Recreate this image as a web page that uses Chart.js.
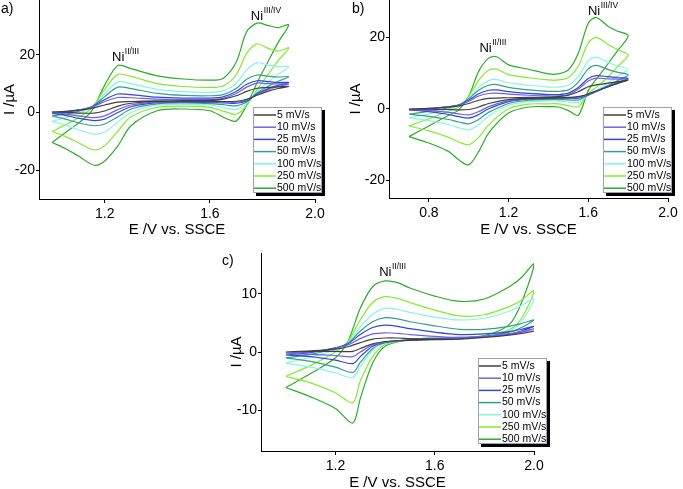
<!DOCTYPE html>
<html>
<head>
<meta charset="utf-8">
<script src="https://cdn.jsdelivr.net/npm/chart.js@4.4.0/dist/chart.umd.min.js"></script>
<style>
body{margin:0;background:#fff;width:683px;height:489px;position:relative;overflow:hidden;font-family:"Liberation Sans",Arial,sans-serif;}
.pane{position:absolute;}
.tag{position:absolute;font-size:14px;line-height:16px;color:#000;}
</style>
</head>
<body>
<div class="pane" style="left:0;top:0"><canvas id="ca" width="340" height="240"></canvas></div>
<div class="pane" style="left:340px;top:0"><canvas id="cb" width="343" height="240"></canvas></div>
<div class="pane" style="left:180px;top:240px"><canvas id="cc" width="370" height="249"></canvas></div>
<div class="tag" style="left:1px;top:0">a)</div>
<div class="tag" style="left:352px;top:0">b)</div>
<div class="tag" style="left:222px;top:252px">c)</div>
<script>
const rates = ['5 mV/s', '10 mV/s', '25 mV/s', '50 mV/s', '100 mV/s', '250 mV/s', '500 mV/s'];
const colors = ['#404040', '#7060e8', '#3048d8', '#35a08a', '#88f5e2', '#80ec30', '#2aae2a'];

// panel a : potentials of forward / reverse sweep, currents per scan rate (uA)
const aFwdE = [1.00, 1.05, 1.10, 1.15, 1.20, 1.25, 1.30, 1.40, 1.50, 1.60, 1.65, 1.70, 1.74, 1.78, 1.82, 1.86, 1.90];
const aRevE = [1.90, 1.86, 1.82, 1.78, 1.74, 1.70, 1.66, 1.60, 1.50, 1.40, 1.30, 1.25, 1.20, 1.16, 1.10, 1.05, 1.00];
const aFwdI = [
  [0.2, 0.4, 0.8, 1.4, 2.6, 3.6, 3.8, 4.0, 4.1, 4.2, 4.6, 5.8, 7.3, 8.4, 8.7, 8.9, 9.0],
  [0.0, 0.3, 0.9, 1.8, 3.8, 5.2, 5.1, 4.6, 4.5, 4.5, 4.9, 6.6, 8.8, 10.2, 10.0, 9.9, 9.9],
  [-0.3, 0.1, 0.8, 2.0, 4.5, 6.4, 6.2, 5.3, 5.0, 5.0, 5.4, 7.3, 9.8, 11.0, 10.7, 10.4, 10.4],
  [-1.2, -0.6, 0.4, 2.0, 5.5, 8.8, 8.3, 6.6, 5.9, 5.8, 6.2, 8.3, 11.5, 13.0, 12.6, 12.3, 12.4],
  [-3.1, -1.8, -0.3, 1.8, 6.5, 10.6, 10.0, 8.0, 7.2, 7.0, 7.5, 10.0, 14.8, 17.2, 16.5, 15.9, 15.8],
  [-6.6, -4.3, -1.8, 1.5, 8.0, 13.2, 12.5, 10.0, 9.0, 8.7, 9.2, 13.0, 20.5, 23.8, 22.3, 21.3, 22.4],
  [-10.4, -7.0, -3.7, 0.5, 9.5, 16.3, 15.2, 12.7, 11.6, 11.2, 11.8, 17.4, 28.0, 31.0, 30.2, 29.4, 30.4]
];
const aRevI = [
  [9.0, 8.3, 7.3, 6.0, 4.6, 3.9, 3.8, 3.9, 3.9, 3.8, 3.2, 2.2, 0.5, -0.2, -0.2, 0.1, 0.2],
  [9.9, 9.0, 7.8, 6.3, 4.3, 3.5, 3.6, 3.7, 3.8, 3.6, 2.6, 1.0, -1.2, -1.8, -1.2, -0.5, 0.0],
  [10.4, 9.4, 8.2, 6.5, 4.0, 3.2, 3.3, 3.5, 3.6, 3.4, 2.0, 0.0, -2.3, -2.8, -2.0, -1.0, -0.3],
  [12.4, 10.8, 9.0, 6.8, 3.6, 2.3, 2.6, 3.1, 3.3, 3.0, 1.2, -1.5, -4.0, -4.6, -3.6, -2.3, -1.2],
  [15.8, 13.3, 10.5, 7.2, 3.2, 1.1, 1.5, 2.6, 2.8, 2.5, 0.0, -3.3, -6.8, -7.5, -6.0, -4.3, -3.1],
  [22.4, 18.0, 13.0, 8.0, 2.4, -0.6, 0.2, 1.8, 2.2, 1.8, -1.5, -6.5, -11.5, -13.0, -10.5, -8.3, -6.6],
  [30.4, 24.3, 17.4, 10.4, 2.5, -3.0, -2.0, 0.6, 1.2, 0.6, -4.6, -11.6, -16.8, -18.3, -15.1, -12.5, -10.4]
];
const aXTicks = [1.2, 1.6, 2.0];
const aYTicks = [-20, 0, 20];

// panel b
const bFwdE = [0.70, 0.80, 0.90, 0.95, 1.00, 1.05, 1.10, 1.14, 1.20, 1.30, 1.40, 1.45, 1.50, 1.55, 1.60, 1.64, 1.70, 1.75, 1.80];
const bRevE = [1.80, 1.75, 1.70, 1.65, 1.60, 1.55, 1.50, 1.45, 1.40, 1.30, 1.20, 1.10, 1.05, 1.00, 0.95, 0.90, 0.80, 0.70];
const bFwdI = [
  [-0.1, 0.1, 0.5, 0.8, 1.5, 2.4, 2.9, 3.0, 3.1, 3.2, 3.3, 3.4, 3.8, 4.8, 6.2, 6.7, 7.2, 7.6, 8.0],
  [-0.2, 0.1, 0.6, 1.0, 2.1, 3.6, 4.3, 4.4, 4.1, 3.8, 3.6, 3.6, 4.0, 5.5, 7.8, 8.6, 8.4, 8.3, 8.2],
  [-0.3, 0.0, 0.6, 1.1, 2.4, 4.2, 5.2, 5.3, 4.8, 4.3, 4.0, 4.0, 4.4, 6.0, 8.5, 9.3, 9.0, 8.7, 8.5],
  [-1.5, -0.7, 0.3, 1.0, 2.8, 5.2, 6.6, 6.8, 6.0, 5.3, 4.9, 4.9, 5.3, 7.5, 11.2, 12.2, 11.0, 10.2, 9.5],
  [-2.5, -1.4, 0.0, 0.8, 3.0, 6.0, 7.9, 8.2, 7.3, 6.6, 6.1, 6.1, 6.6, 9.0, 13.5, 14.5, 13.0, 12.0, 11.1],
  [-4.8, -2.8, -0.6, 0.5, 3.5, 8.0, 10.8, 11.1, 9.6, 8.7, 8.1, 8.1, 8.8, 12.0, 18.5, 20.0, 18.0, 16.5, 15.1],
  [-7.8, -4.8, -1.8, -0.3, 3.5, 10.5, 14.2, 14.6, 12.3, 11.1, 9.8, 9.8, 10.9, 15.6, 24.0, 25.6, 23.1, 21.7, 20.5]
];
const bRevI = [
  [8.0, 7.2, 6.2, 5.2, 4.2, 3.4, 3.2, 3.1, 3.0, 2.9, 2.6, 1.5, 0.5, -0.2, -0.3, -0.2, -0.1, -0.1],
  [8.2, 7.2, 6.2, 5.1, 4.0, 3.2, 3.0, 3.0, 3.0, 2.8, 2.2, 0.6, -0.8, -1.7, -1.4, -1.0, -0.5, -0.2],
  [8.5, 7.4, 6.3, 5.1, 3.9, 3.0, 2.9, 2.9, 2.9, 2.7, 2.0, 0.0, -1.6, -2.6, -2.2, -1.6, -0.8, -0.3],
  [9.5, 8.0, 6.6, 5.2, 3.8, 2.5, 2.5, 2.6, 2.6, 2.4, 1.5, -1.0, -3.0, -4.2, -3.7, -3.0, -2.1, -1.5],
  [11.1, 9.2, 7.3, 5.5, 3.8, 1.8, 1.9, 2.2, 2.2, 2.0, 1.0, -2.0, -4.5, -5.9, -5.3, -4.4, -3.3, -2.5],
  [15.1, 12.0, 9.0, 6.5, 4.2, 0.6, 0.9, 1.4, 1.4, 1.3, 0.0, -4.5, -8.0, -10.1, -9.3, -8.0, -6.2, -4.8],
  [20.5, 16.5, 12.7, 9.0, 5.1, -1.8, -0.5, 0.5, 0.6, 0.5, -1.2, -6.8, -12.0, -15.7, -14.3, -12.0, -9.6, -7.8]
];
const bXTicks = [0.8, 1.2, 1.6, 2.0];
const bYTicks = [-20, 0, 20];

// panel c
const cFwdE = [1.00, 1.10, 1.20, 1.25, 1.30, 1.35, 1.40, 1.45, 1.50, 1.60, 1.70, 1.80, 1.90, 1.95, 2.00];
const cRevE = [2.00, 1.95, 1.90, 1.80, 1.70, 1.60, 1.50, 1.40, 1.35, 1.30, 1.27, 1.20, 1.10, 1.00];
const cFwdI = [
  [0.0, 0.2, 0.5, 0.9, 1.6, 2.2, 2.4, 2.4, 2.3, 2.2, 2.2, 2.5, 2.9, 3.2, 3.6],
  [-0.2, 0.0, 0.7, 1.2, 2.3, 3.1, 3.3, 3.2, 3.0, 2.7, 2.5, 2.7, 3.1, 3.5, 4.0],
  [-0.5, -0.1, 0.7, 1.4, 3.0, 4.2, 4.6, 4.4, 4.0, 3.4, 3.0, 3.1, 3.5, 3.9, 4.4],
  [-1.0, -0.4, 0.6, 1.5, 3.6, 5.2, 5.9, 5.7, 5.2, 4.5, 3.9, 3.9, 4.4, 4.9, 5.5],
  [-1.9, -0.9, 0.4, 1.6, 4.3, 6.5, 7.5, 7.3, 6.8, 6.0, 5.5, 5.8, 7.0, 8.0, 9.2],
  [-4.2, -2.3, 0.0, 1.8, 5.5, 8.5, 9.5, 9.2, 8.5, 7.2, 6.2, 6.4, 7.8, 8.9, 10.5],
  [-6.1, -3.7, -1.0, 1.8, 7.5, 11.2, 12.2, 11.9, 11.0, 9.6, 8.7, 9.1, 11.2, 12.8, 15.1]
];
const cRevI = [
  [3.6, 3.2, 2.9, 2.5, 2.2, 2.1, 2.0, 1.8, 1.4, 0.6, 0.1, 0.1, 0.1, 0.0],
  [4.0, 3.4, 3.0, 2.6, 2.3, 2.2, 2.0, 1.7, 1.2, 0.0, -0.8, -0.6, -0.4, -0.2],
  [4.4, 3.6, 3.1, 2.6, 2.4, 2.3, 2.1, 1.7, 1.0, -0.8, -2.0, -1.4, -0.8, -0.5],
  [5.5, 4.2, 3.4, 2.7, 2.4, 2.3, 2.1, 1.6, 0.6, -1.8, -3.5, -2.6, -1.6, -1.0],
  [9.2, 5.2, 3.6, 2.7, 2.4, 2.3, 2.1, 1.5, 0.3, -2.5, -4.4, -3.6, -2.6, -1.9],
  [10.5, 5.8, 3.8, 2.7, 2.4, 2.3, 2.1, 1.3, -0.8, -5.0, -8.7, -7.0, -5.3, -4.2],
  [15.1, 8.5, 4.7, 2.8, 2.5, 2.4, 2.1, 1.0, -1.9, -8.0, -12.2, -9.7, -7.7, -6.1]
];
const cXTicks = [1.2, 1.6, 2.0];
const cYTicks = [-10, 0, 10];

const FONT = '"Liberation Sans", Arial, sans-serif';

// join forward and reverse sweep into one closed loop
function loop(fE, fI, rE, rI) {
  const pts = fE.map((e, i) => ({x: e, y: fI[i]}));
  for (let i = 1; i < rE.length; i++) pts.push({x: rE[i], y: rI[i]});
  return pts;
}

const cvLegend = {
  id: 'cvLegend',
  afterDraw(chart, args, o) {
    const ctx = chart.ctx;
    const w = 69, h = 86, rowH = 12.2;
    ctx.save();
    ctx.fillStyle = '#000';
    ctx.fillRect(o.x + 3, o.y + 3, w, h);
    ctx.fillStyle = '#fff';
    ctx.fillRect(o.x, o.y, w, h);
    ctx.strokeStyle = '#a0a0b0';
    ctx.lineWidth = 1;
    ctx.strokeRect(o.x + 0.5, o.y + 0.5, w - 1, h - 1);
    ctx.font = '10.5px ' + FONT;
    ctx.textBaseline = 'middle';
    chart.data.datasets.forEach((ds, i) => {
      const cy = o.y + 8 + i * rowH;
      ctx.strokeStyle = ds.borderColor;
      ctx.lineWidth = 1.5;
      ctx.beginPath();
      ctx.moveTo(o.x + 1, cy);
      ctx.lineTo(o.x + 23, cy);
      ctx.stroke();
      ctx.fillStyle = '#000';
      ctx.fillText(ds.label, o.x + 24, cy);
    });
    ctx.restore();
  }
};

const niLabels = {
  id: 'niLabels',
  afterDraw(chart, args, o) {
    const {ctx, scales: {x, y}} = chart;
    ctx.save();
    ctx.fillStyle = '#000';
    ctx.textBaseline = 'alphabetic';
    o.items.forEach(it => {
      const px = x.getPixelForValue(it.e), py = y.getPixelForValue(it.i);
      ctx.font = '13px ' + FONT;
      ctx.fillText('Ni', px, py);
      const w = ctx.measureText('Ni').width;
      ctx.font = '8.5px ' + FONT;
      ctx.fillText(it.sup, px + w + 0.5, py - 7);
    });
    ctx.restore();
  }
};

function makeChart(id, fE, fI, rE, rI, xr, yr, xt, yt, L, legendPos, notes) {
  const datasets = rates.map((r, k) => ({
    label: r,
    data: loop(fE, fI[k], rE, rI[k]),
    borderColor: colors[k],
    borderWidth: 1.2,
    pointRadius: 0,
    showLine: true,
    fill: false,
    tension: 0.3
  }));
  new Chart(document.getElementById(id), {
    type: 'scatter',
    data: {datasets},
    plugins: [cvLegend, niLabels],
    options: {
      responsive: false,
      animation: false,
      layout: {padding: {left: 0, top: L.top, right: L.right, bottom: 0}},
      plugins: {
        legend: {display: false},
        tooltip: {enabled: false},
        cvLegend: legendPos,
        niLabels: {items: notes}
      },
      scales: {
        x: {
          type: 'linear', min: xr[0], max: xr[1],
          grid: {drawOnChartArea: false, drawTicks: true, tickLength: 4, color: '#000'},
          border: {display: true, color: '#000', width: 1},
          afterBuildTicks: s => { s.ticks = xt.map(v => ({value: v})); },
          ticks: {color: '#000', font: {family: FONT, size: 14}, padding: 3, maxRotation: 0, autoSkip: false,
                  callback: v => v.toFixed(1)},
          title: {display: true, text: 'E /V vs. SSCE', color: '#000', font: {family: FONT, size: 15},
                  padding: {top: 0, bottom: L.tb}},
          afterFit: s => { s.height = L.xh; s.paddingLeft = 0; s.paddingRight = 0; }
        },
        y: {
          type: 'linear', min: yr[0], max: yr[1],
          grid: {drawOnChartArea: false, drawTicks: true, tickLength: 3, color: '#000'},
          border: {display: true, color: '#000', width: 1},
          afterBuildTicks: s => { s.ticks = yt.map(v => ({value: v})); },
          ticks: {color: '#000', font: {family: FONT, size: 14}, padding: 1, autoSkip: false,
                  callback: v => String(v)},
          title: {display: true, text: 'I /\u00b5A', color: '#000', font: {family: FONT, size: 15},
                  padding: {top: L.tp, bottom: 0}},
          afterFit: s => { s.width = L.yw; s.paddingTop = 0; s.paddingBottom = 0; }
        }
      }
    }
  });
}

makeChart('ca', aFwdE, aFwdI, aRevE, aRevI, [0.95, 2.0], [-30, 39], aXTicks, aYTicks,
  {top: 0, right: 25, xh: 41, yw: 39, tb: 1, tp: 1},
  {x: 253, y: 107},
  [{e: 1.228, i: 17.7, sup: 'II/III'}, {e: 1.756, i: 32.2, sup: 'III/IV'}]);

makeChart('cb', bFwdE, bFwdI, bRevE, bRevI, [0.6, 2.0], [-25, 30.5], bXTicks, bYTicks,
  {top: 0, right: 15, xh: 42, yw: 49, tb: 1, tp: 7},
  {x: 263, y: 107},
  [{e: 1.054, i: 15.8, sup: 'II/III'}, {e: 1.598, i: 26.4, sup: 'III/IV'}]);

makeChart('cc', cFwdE, cFwdI, cRevE, cRevI, [0.9, 2.0], [-17, 17], cXTicks, cYTicks,
  {top: 13, right: 16, xh: 38, yw: 81, tb: -3, tp: 48},
  {x: 298, y: 118},
  [{e: 1.376, i: 13.0, sup: 'II/III'}]);
</script>
</body>
</html>
